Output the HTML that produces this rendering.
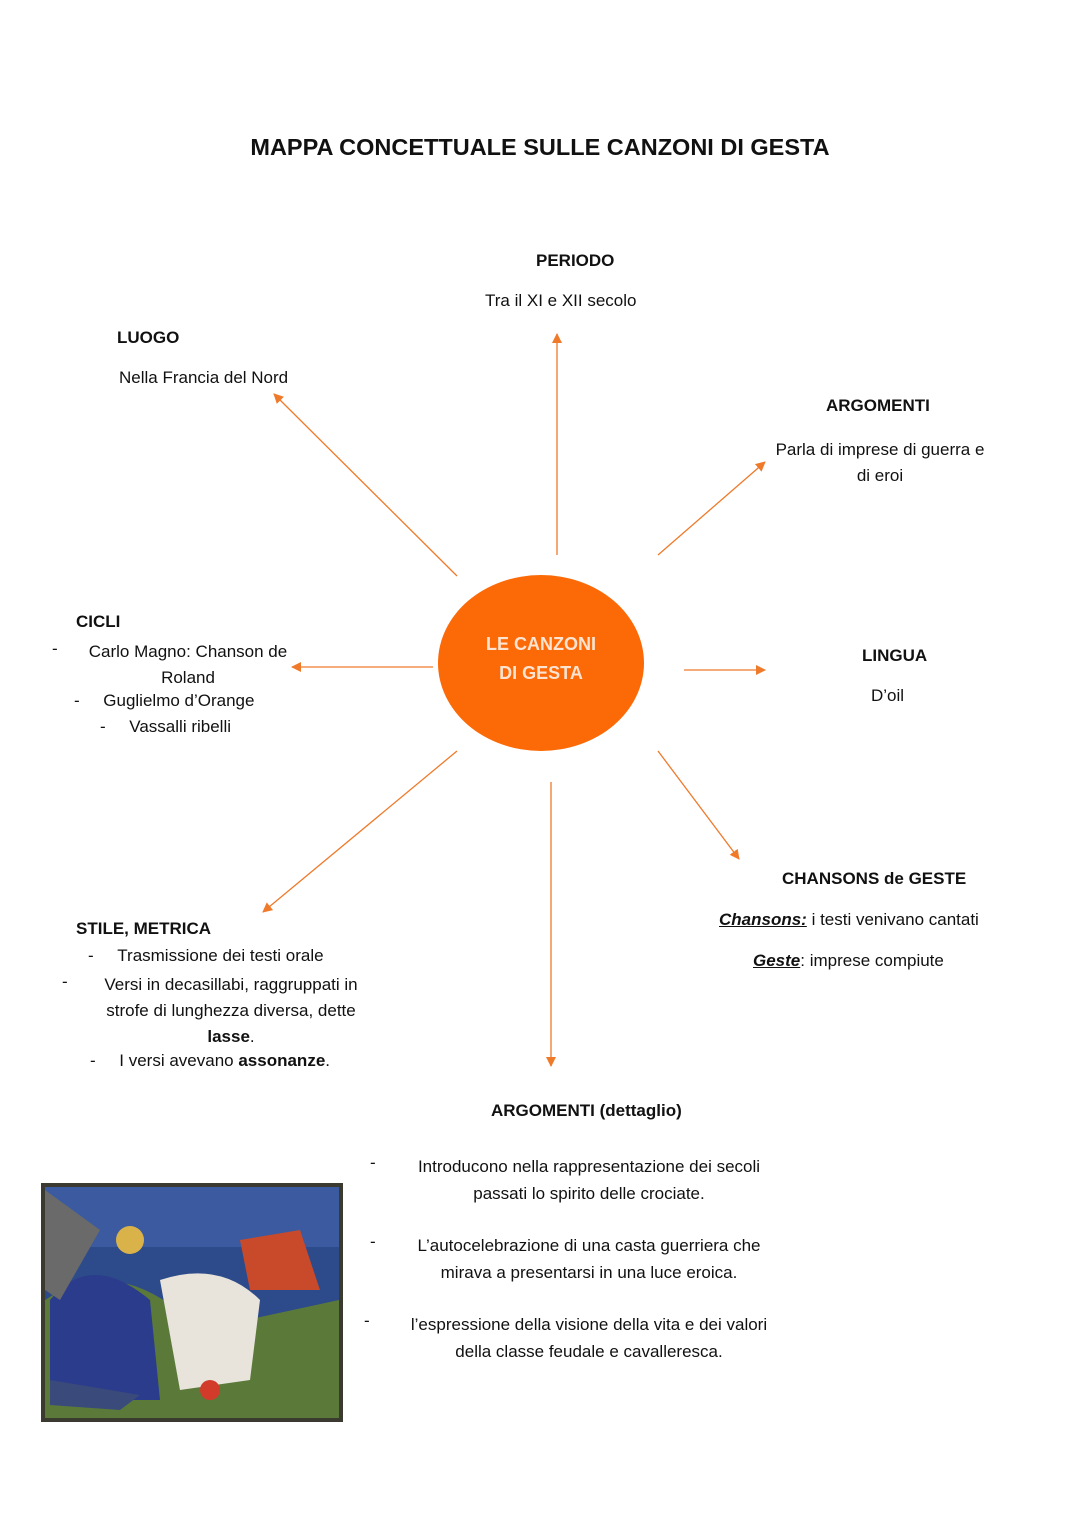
<!DOCTYPE html>
<html><head><meta charset="utf-8"><style>
body{margin:0;background:#fff;}
.p{position:relative;width:1080px;height:1527px;font-family:"Liberation Sans",sans-serif;color:#111;font-size:17px;}
.t{position:absolute;white-space:nowrap;}
.b{font-weight:bold;}
.c{text-align:center;}
</style></head><body><div class="p">
<div class="t b" style="left:0;width:1080px;text-align:center;top:134px;font-size:23.5px;">MAPPA CONCETTUALE SULLE CANZONI DI GESTA</div>

<svg width="1080" height="1527" style="position:absolute;left:0;top:0">
<defs><marker id="a" markerWidth="10" markerHeight="10" refX="9" refY="5" orient="auto" markerUnits="userSpaceOnUse"><path d="M0,0 L10,5 L0,10z" fill="#ef7a2a"/></marker></defs>
<g stroke="#ef7a2a" stroke-width="1.3" marker-end="url(#a)">
<line x1="557" y1="555" x2="557" y2="334"/>
<line x1="457" y1="576" x2="274" y2="394"/>
<line x1="658" y1="555" x2="765" y2="462"/>
<line x1="433" y1="667" x2="292" y2="667"/>
<line x1="684" y1="670" x2="765" y2="670"/>
<line x1="457" y1="751" x2="263" y2="912"/>
<line x1="551" y1="782" x2="551" y2="1066"/>
<line x1="658" y1="751" x2="739" y2="859"/>
</g>
<ellipse cx="541" cy="663" rx="103" ry="88" fill="#fc6a08"/>
<g>
<rect x="41" y="1183" width="302" height="239" fill="#3a3a30" />
<rect x="45" y="1187" width="294" height="231" fill="#2d4a8a"/>
<rect x="45" y="1187" width="294" height="60" fill="#3b5aa0"/>
<path d="M45 1300 Q120 1250 200 1330 L339 1300 L339 1418 L45 1418z" fill="#5b7a3a"/>
<path d="M50 1300 Q90 1250 150 1300 L160 1400 L50 1400z" fill="#2b3c8c"/>
<path d="M160 1280 Q220 1260 260 1300 L250 1380 L180 1390z" fill="#e8e4dc"/>
<path d="M240 1240 L300 1230 L320 1290 L250 1290z" fill="#c84a2a"/>
<circle cx="130" cy="1240" r="14" fill="#d9b24a"/>
<path d="M50 1380 L140 1395 L120 1410 L50 1405z" fill="#3a4a7a"/>
<circle cx="210" cy="1390" r="10" fill="#d23a2a"/>
<path d="M45 1190 L100 1230 L60 1300 L45 1290z" fill="#6a6a6a"/>
</g>
</svg>

<div class="t b c" style="left:436px;width:210px;top:630px;color:#fde3d0;font-size:18px;line-height:29px;">LE CANZONI<br>DI GESTA</div>

<div class="t b" style="left:536px;top:251px;">PERIODO</div>
<div class="t" style="left:485px;top:291px;">Tra il XI e XII secolo</div>

<div class="t b" style="left:117px;top:328px;">LUOGO</div>
<div class="t" style="left:119px;top:368px;">Nella Francia del Nord</div>

<div class="t b" style="left:826px;top:396px;">ARGOMENTI</div>
<div class="t c" style="left:760px;width:240px;top:437px;line-height:26px;">Parla di imprese di guerra e<br>di eroi</div>

<div class="t b" style="left:862px;top:646px;">LINGUA</div>
<div class="t" style="left:871px;top:686px;">D’oil</div>

<div class="t b" style="left:76px;top:612px;">CICLI</div>
<div class="t" style="left:52px;top:639px;">-</div>
<div class="t c" style="left:80px;width:216px;top:639px;line-height:26px;">Carlo Magno: Chanson de<br>Roland</div>
<div class="t" style="left:74px;top:691px;">-&nbsp;&nbsp;&nbsp;&nbsp;&nbsp;Guglielmo d’Orange</div>
<div class="t" style="left:100px;top:717px;">-&nbsp;&nbsp;&nbsp;&nbsp;&nbsp;Vassalli ribelli</div>

<div class="t b" style="left:782px;top:869px;">CHANSONS de GESTE</div>
<div class="t" style="left:719px;top:910px;"><b><i><u>Chansons:</u></i></b> i testi venivano cantati</div>
<div class="t" style="left:753px;top:951px;"><b><i><u>Geste</u></i></b>: imprese compiute</div>

<div class="t b" style="left:76px;top:919px;">STILE, METRICA</div>
<div class="t" style="left:88px;top:946px;">-&nbsp;&nbsp;&nbsp;&nbsp;&nbsp;Trasmissione dei testi orale</div>
<div class="t" style="left:62px;top:972px;">-</div>
<div class="t c" style="left:90px;width:282px;top:972px;line-height:26px;">Versi in decasillabi, raggruppati in<br>strofe di lunghezza diversa, dette<br><b>lasse</b>.</div>
<div class="t" style="left:90px;top:1051px;">-&nbsp;&nbsp;&nbsp;&nbsp;&nbsp;I versi avevano <b>assonanze</b>.</div>

<div class="t b" style="left:491px;top:1101px;">ARGOMENTI (dettaglio)</div>
<div class="t" style="left:370px;top:1153px;">-</div>
<div class="t c" style="left:395px;width:388px;top:1153px;line-height:27px;">Introducono nella rappresentazione dei secoli<br>passati lo spirito delle crociate.</div>
<div class="t" style="left:370px;top:1232px;">-</div>
<div class="t c" style="left:395px;width:388px;top:1232px;line-height:27px;">L’autocelebrazione di una casta guerriera che<br>mirava a presentarsi in una luce eroica.</div>
<div class="t" style="left:364px;top:1311px;">-</div>
<div class="t c" style="left:380px;width:418px;top:1311px;line-height:27px;">l’espressione della visione della vita e dei valori<br>della classe feudale e cavalleresca.</div>
</div></body></html>
